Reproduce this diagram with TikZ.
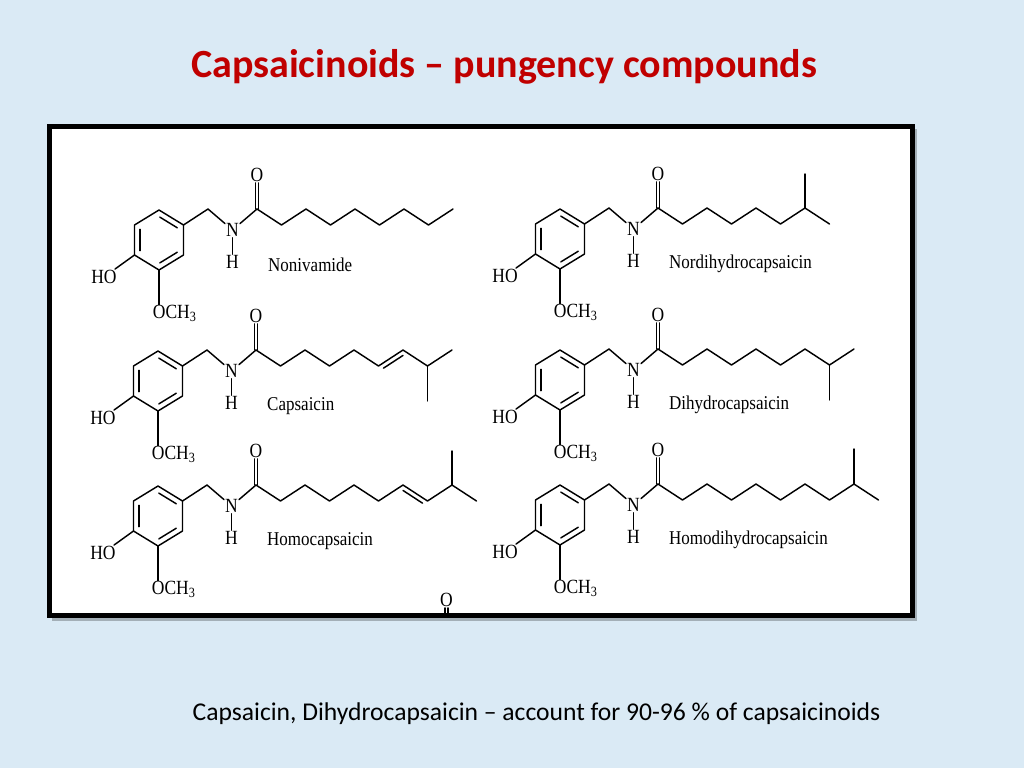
\documentclass[tikz,border=0pt]{standalone}
\usepackage{fontspec}
\setmainfont{Liberation Serif}
\newfontfamily\calib{Carlito}
\usetikzlibrary{calc}
\definecolor{bgblue}{RGB}{218,234,245}
\definecolor{titlered}{RGB}{192,0,0}
\newcommand\tallt[1]{\scalebox{1}[1.15]{#1}}
\tikzset{
  bond/.style={line width=1.45pt, line cap=round, line join=round},
  atom/.style={font=\fontsize{17.5}{18}\selectfont, inner sep=1pt},
  cname/.style={font=\fontsize{17}{18}\selectfont, anchor=west, inner sep=0pt},
  dbl/.style={bond, shorten <=3pt, shorten >=3pt},
}
\newcommand\vanmol[2]{%
  \coordinate (#1c1) at (0,0);
  \coordinate (#1rc) at (-98,31);
  \coordinate (#1rt) at (-98,1);
  \coordinate (#1rur) at (-73.5,16);
  \coordinate (#1rlr) at (-73.5,46);
  \coordinate (#1rb) at (-98,61);
  \coordinate (#1rll) at (-122.5,46);
  \coordinate (#1rul) at (-122.5,16);
  \coordinate (#1ch2) at (-49,0);
  \draw[bond] (#1rt) -- (#1rur) -- (#1rlr) -- (#1rb) -- (#1rll) -- (#1rul) -- cycle;
  \draw[bond,shorten <=1pt,shorten >=1pt] ($(#1rc)!0.78!(#1rul)$) -- ($(#1rc)!0.78!(#1rll)$);
  \draw[bond,shorten <=1pt,shorten >=1pt] ($(#1rc)!0.78!(#1rt)$) -- ($(#1rc)!0.78!(#1rur)$);
  \draw[bond,shorten <=1pt,shorten >=1pt] ($(#1rc)!0.78!(#1rlr)$) -- ($(#1rc)!0.78!(#1rb)$);
  \node[atom] (#1n) at (-24.5,21) {\tallt{N}};
  \node[atom] (#1h) at (-24.5,53) {\tallt{H}};
  \node[atom] (#1o) at (0,-34) {\tallt{O}};
  \node[atom] (#1ho) at (-153,68) {\tallt{HO}};
  \node[atom, anchor=west, inner sep=0pt] (#1och) at (-104.3,104) {\tallt{OCH\textsubscript{3}}};
  \draw[bond] (#1rur) -- (#1ch2) -- (#1n);
  \draw[bond] (#1n) -- (#1c1);
  \draw[bond] (#1n) -- (#1h);
  \draw[bond] ([xshift=-1.7pt]#1c1) -- ([xshift=-1.7pt]#1o.south);
  \draw[bond] ([xshift=1.7pt]#1c1) -- ([xshift=1.7pt]#1o.south);
  \draw[bond] (#1rll) -- (#1ho);
  \draw[bond] (#1rb) -- (#1rb |- #1och.north);
  \node[cname] (#1name) at (11,56) {\tallt{#2}};
}
\begin{document}
\begin{tikzpicture}[x=1pt,y=-1pt]
\useasboundingbox (0,0) rectangle (1024,768);
\fill[bgblue] (0,0) rectangle (1024,768);
\node[font={\calib\bfseries\fontsize{40}{46}\selectfont}, text=titlered] (title) at (504,67) {Capsaicinoids – pungency compounds};
\node[font={\calib\fontsize{25.6}{30}\selectfont}] (note) at (536.5,714) {Capsaicin, Dihydrocapsaicin – account for 90-96 \% of capsaicinoids};
% frame
\fill[black, opacity=0.25] (52,129) rectangle (917,621);
\draw[line width=5pt, fill=white] (49.5,126) rectangle (912.5,615.5);
% stray cut-off carbonyl
\node[atom] (stray) at (446.5,600) {\tallt{O}};
\draw[bond] ([xshift=-1.7pt]stray.south) -- ++(0,6);
\draw[bond] ([xshift=1.7pt]stray.south) -- ++(0,6);
\draw[line width=5pt] (49.5,615.5) -- (912.5,615.5);
% Nonivamide
\begin{scope}[shift={(257,209)}]
  \vanmol{A}{Nonivamide}
  \draw[bond] (Ac1) -- (24.5,16) -- (49,0) -- (73.5,16) -- (98,0) -- (122.5,16) -- (147,0) -- (171.5,16) -- (196,0);
\end{scope}
% Nordihydrocapsaicin
\begin{scope}[shift={(658,208)}]
  \vanmol{B}{Nordihydrocapsaicin}
  \coordinate (Bc7) at (147,0);
  \draw[bond] (Bc1) -- (24.5,16) -- (49,0) -- (73.5,16) -- (98,0) -- (122.5,16) -- (Bc7) -- (171.5,16);
  \draw[bond] (Bc7) -- (147,-34);
\end{scope}
% Capsaicin
\begin{scope}[shift={(256,350)}]
  \vanmol{C}{Capsaicin}
  \coordinate (Cc6) at (122.5,16);
  \coordinate (Cc7) at (147,0);
  \coordinate (Cc8) at (171.5,16);
  \draw[bond] (Cc1) -- (24.5,16) -- (49,0) -- (73.5,16) -- (98,0) -- (Cc6) -- (Cc7) -- (Cc8) -- (196,0);
  \draw[bond] (Cc8) -- (171.5,51);
  \draw[dbl] ([shift={(2.5,3.8)}]Cc6) -- ([shift={(2.5,3.8)}]Cc7);
\end{scope}
% Dihydrocapsaicin
\begin{scope}[shift={(658,349)}]
  \vanmol{D}{Dihydrocapsaicin}
  \coordinate (Dc8) at (171.5,16);
  \draw[bond] (Dc1) -- (24.5,16) -- (49,0) -- (73.5,16) -- (98,0) -- (122.5,16) -- (147,0) -- (Dc8) -- (196,0);
  \draw[bond] (Dc8) -- (171.5,51);
\end{scope}
% Homocapsaicin
\begin{scope}[shift={(256,485)}]
  \vanmol{E}{Homocapsaicin}
  \coordinate (Ec7) at (147,0);
  \coordinate (Ec8) at (171.5,16);
  \coordinate (Ec9) at (196,0);
  \draw[bond] (Ec1) -- (24.5,16) -- (49,0) -- (73.5,16) -- (98,0) -- (122.5,16) -- (Ec7) -- (Ec8) -- (Ec9) -- (220.5,16);
  \draw[bond] (Ec9) -- (196,-34);
  \draw[dbl] ([shift={(-2.5,3.8)}]Ec7) -- ([shift={(-2.5,3.8)}]Ec8);
\end{scope}
% Homodihydrocapsaicin
\begin{scope}[shift={(658,484)}]
  \vanmol{F}{Homodihydrocapsaicin}
  \coordinate (Fc9) at (196,0);
  \draw[bond] (Fc1) -- (24.5,16) -- (49,0) -- (73.5,16) -- (98,0) -- (122.5,16) -- (147,0) -- (171.5,16) -- (Fc9) -- (220.5,16);
  \draw[bond] (Fc9) -- (196,-35);
\end{scope}
\end{tikzpicture}
\end{document}
